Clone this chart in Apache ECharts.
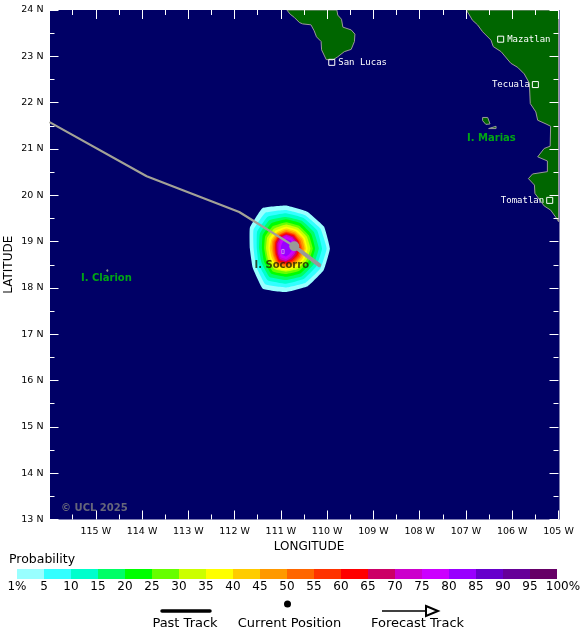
<!DOCTYPE html>
<html>
<head>
<meta charset="utf-8">
<style>html,body{margin:0;padding:0;background:#fff}#c{width:580px;height:639px}</style>
<script src="https://cdn.jsdelivr.net/npm/echarts@6/dist/echarts.min.js"></script>
</head>
<body>
<div id="c"></div>
<script>
const levelColors = ['#99ffff','#33ffff','#00ffcc','#00ff66','#00ff00','#66ff00','#ccff00','#ffff00','#ffcc00','#ff9900','#ff6600','#ff3300','#ff0000','#cc0066','#cc00cc','#cc00ff','#9900ff','#6600cc','#660099','#660066'];
const legendTicks = {0:'1%',100:'{r|100%}'};
const pastTrack = [[-116,21.58],[-113.9,20.41],[-111.9,19.64],[-110.71,18.9]];
const forecastTrack = [[-110.71,18.9],[-110.17,18.49]];
const currentPosition = [[-110.71,18.9]];
const probabilityCenter = [-110.89,18.85];
// radius (deg) of each probability contour: E, 30, 60, N, 120, 150, W, 210, 240, S, 300, 330
const contour1  = [.95,.95,.92,.93,1.01,.90,.78,.83,1.00,.94,.94,.94];
const contour5  = [.88,.86,.83,.83,.89,.81,.70,.75,.89,.84,.85,.86];
const contour10 = [.78,.78,.76,.76,.79,.72,.63,.68,.79,.76,.76,.76];
const contour15 = [.71,.70,.69,.68,.71,.65,.58,.61,.71,.68,.69,.69];
const contour20 = [.63,.63,.63,.63,.63,.58,.52,.55,.63,.61,.62,.62];
const contour25 = [.58,.57,.57,.57,.56,.52,.47,.49,.57,.55,.56,.56];
const contour30 = [.53,.52,.52,.52,.50,.47,.43,.45,.51,.50,.51,.51];
const contour35 = [.47,.47,.47,.47,.45,.42,.38,.40,.47,.47,.46,.46];
const contour40 = [.43,.43,.43,.43,.40,.37,.35,.36,.43,.43,.42,.42];
const contour45 = [.40,.40,.40,.40,.37,.34,.31,.32,.40,.40,.38,.38];
const contour50 = [.36,.36,.37,.37,.34,.31,.28,.30,.37,.37,.35,.35];
const contour55 = [.33,.33,.35,.35,.32,.28,.25,.27,.34,.34,.32,.32];
const contour60 = [.30,.31,.33,.33,.30,.26,.23,.25,.32,.32,.29,.29];
const contour65 = [.27,.29,.31,.31,.28,.24,.21,.23,.29,.29,.27,.26];
const contour70 = [.24,.26,.28,.29,.25,.21,.18,.20,.26,.27,.23,.22];
const contour75 = [.20,.22,.25,.26,.22,.17,.15,.17,.22,.23,.19,.19];
const contour80 = [.14,.17,.20,.20,.15,.12,.11,.12,.16,.17,.14,.13];
const contours = [contour1,contour5,contour10,contour15,contour20,contour25,contour30,contour35,contour40,contour45,contour50,contour55,contour60,contour65,contour70,contour75,contour80];

const bajaCoast = [[-110.87,24],[-110.80,23.91],[-110.71,23.84],[-110.60,23.73],[-110.53,23.70],[-110.35,23.68],[-110.28,23.55],[-110.23,23.42],[-110.13,23.32],[-110.12,23.14],[-110.02,22.93],[-109.88,22.92],[-109.77,22.99],[-109.63,23.10],[-109.48,23.15],[-109.41,23.32],[-109.40,23.48],[-109.48,23.57],[-109.66,23.63],[-109.69,23.80],[-109.77,23.89],[-109.79,24]];
const mainlandCoast = [[-106.99,24],[-106.86,23.78],[-106.75,23.68],[-106.64,23.53],[-106.46,23.35],[-106.41,23.21],[-106.24,23.10],[-106.09,22.92],[-106.03,22.85],[-105.88,22.76],[-105.74,22.62],[-105.63,22.42],[-105.61,21.98],[-105.49,21.80],[-105.45,21.62],[-105.27,21.54],[-105.17,21.49],[-105.18,21.06],[-105.31,21.01],[-105.45,20.83],[-105.24,20.74],[-105.24,20.51],[-105.56,20.46],[-105.65,20.36],[-105.52,20.22],[-105.51,20.04],[-105.31,19.77],[-105.17,19.68],[-105.04,19.50],[-105,19.43],[-105,24]];
const mariaMadre = [[-106.64,21.68],[-106.53,21.68],[-106.48,21.54],[-106.57,21.53],[-106.64,21.61]];
const mariaSmall = [[-106.51,21.44],[-106.35,21.49],[-106.35,21.44]];
const clarionIsle = [[-114.76,18.39],[-114.74,18.39],[-114.74,18.36],[-114.76,18.36]];
const socorroIsle = [[-110.98,18.83],[-110.93,18.83],[-110.93,18.74],[-110.98,18.74]];
const landShapes = [bajaCoast,mainlandCoast,mariaMadre,mariaSmall,clarionIsle,socorroIsle];

const cities = [
  {name:'Mazatlan',value:[-106.25,23.37],side:'right'},
  {name:'San Lucas',value:[-109.90,22.87],side:'right'},
  {name:'Tecuala',value:[-105.50,22.39],side:'left'},
  {name:'Tomatlan',value:[-105.19,19.89],side:'left'}
];
const islandLabels = [
  {name:'I. Clarion',value:[-114.77,18.21],color:'#00d000'},
  {name:'I. Marias',value:[-106.45,21.22],color:'#00d000'},
  {name:'I. Socorro',value:[-110.98,18.49],color:'#222200'}
];
const copyright = [{name:'© UCL 2025',value:[-115.03,13.24]}];

const FONT = '"DejaVu Sans"';
const mapAxis = {
  type:'value', min:-116, max:-105, interval:1, gridIndex:0, z:10, splitLine:{show:false},
  axisLine:{show:false},
  axisTick:{show:true,inside:true,length:9,lineStyle:{color:'#fff',width:1}},
  minorTick:{show:true,splitNumber:2,length:5,lineStyle:{color:'#fff',width:1}},
  minorSplitLine:{show:false}
};
const mapAxisY = Object.assign({},mapAxis,{min:13,max:24});
function ringPoints(api, radii){
  const n = radii.length;
  return radii.map((r,i)=>{
    const a = i*2*Math.PI/n;
    return api.coord([probabilityCenter[0]+r*Math.cos(a),probabilityCenter[1]+r*Math.sin(a)]);
  });
}
const option = {
  animation:false,
  textStyle:{fontFamily:FONT},
  grid:[
    {left:49.5,top:10,width:509,height:509.5,outerBoundsMode:'none',containLabel:false},
    {left:17,top:569,width:540,height:10,outerBoundsMode:'none',containLabel:false}
  ],
  xAxis:[
    Object.assign({},mapAxis,{position:'bottom',name:'LONGITUDE',nameLocation:'middle',nameGap:21.5,nameMoveOverlap:false,
      nameTextStyle:{fontSize:12,color:'#000',fontFamily:FONT,padding:[0,0,0,10]},
      axisLabel:{show:true,margin:7,fontSize:9.5,color:'#000',fontFamily:FONT,showMinLabel:false,formatter:v=>(-v)+' W'}}),
    Object.assign({},mapAxis,{position:'top',axisLabel:{show:false}}),
    {type:'value',gridIndex:1,min:0,max:100,interval:5,axisLine:{show:false},axisTick:{show:false},splitLine:{show:false},
      axisLabel:{margin:2,fontSize:12,color:'#000',fontFamily:FONT,showMinLabel:true,showMaxLabel:true,hideOverlap:false,
        rich:{r:{fontSize:12,color:'#000',fontFamily:FONT,padding:[0,0,0,12]}},
        formatter:v=>legendTicks[v]||String(v)}}
  ],
  yAxis:[
    Object.assign({},mapAxisY,{position:'left',name:'LATITUDE',nameLocation:'middle',nameGap:34.5,nameRotate:90,nameMoveOverlap:false,
      nameTextStyle:{fontSize:12,color:'#000',fontFamily:FONT},
      axisLabel:{show:true,margin:6,fontSize:9.5,color:'#000',fontFamily:FONT,formatter:v=>v+' N'}}),
    Object.assign({},mapAxisY,{position:'right',axisLabel:{show:false}}),
    {type:'value',gridIndex:1,min:0,max:1,show:false}
  ],
  graphic:[
    {type:'rect',z:0,silent:true,shape:{x:50,y:10,width:509.5,height:509.5},style:{fill:'#000066'}},
    {type:'text',left:9,top:553,style:{text:'Probability',font:'12.5px "DejaVu Sans"',fill:'#000'}},
    {type:'line',shape:{x1:162,y1:611,x2:210,y2:611},style:{stroke:'#000',lineWidth:3.5,lineCap:'round'}},
    {type:'circle',shape:{cx:287.5,cy:604,r:3.5},style:{fill:'#000'}},
    {type:'line',shape:{x1:382,y1:611,x2:426,y2:611},style:{stroke:'#000',lineWidth:1.5}},
    {type:'polygon',shape:{points:[[426,606],[438,611],[426,616]]},style:{fill:'#fff',stroke:'#000',lineWidth:2}},
    {type:'text',x:185,y:623.5,style:{text:'Past Track',font:'13px "DejaVu Sans"',fill:'#000',align:'center',verticalAlign:'middle'}},
    {type:'text',x:289.5,y:623.5,style:{text:'Current Position',font:'13px "DejaVu Sans"',fill:'#000',align:'center',verticalAlign:'middle'}},
    {type:'text',x:417.5,y:623.5,style:{text:'Forecast Track',font:'13px "DejaVu Sans"',fill:'#000',align:'center',verticalAlign:'middle'}}
  ],
  series:[
    {type:'custom',xAxisIndex:0,yAxisIndex:0,z:3,clip:true,silent:true,
      data:contours.map((c,i)=>[i]),
      renderItem:(p,api)=>{
        const i = api.value(0);
        return {type:'polygon',shape:{points:ringPoints(api,contours[i]),smooth:0.1},style:{fill:levelColors[i]}};
      }},
    {type:'custom',xAxisIndex:0,yAxisIndex:0,z:4,clip:true,silent:true,
      data:landShapes.map((c,i)=>[i]),
      renderItem:(p,api)=>{
        const i = api.value(0);
        const isSoc = landShapes[i]===socorroIsle;
        return {type:'polygon',shape:{points:landShapes[i].map(q=>api.coord(q))},
          style:{fill:isSoc?'rgba(0,0,0,0)':'#006600',stroke:isSoc?'#cc88ee':'#999',lineWidth:1}};
      }},
    {type:'line',xAxisIndex:0,yAxisIndex:0,z:6,data:pastTrack,showSymbol:false,silent:true,
      lineStyle:{color:'#a3a296',width:2.2}},
    {type:'line',xAxisIndex:0,yAxisIndex:0,z:6,data:forecastTrack,showSymbol:false,silent:true,
      lineStyle:{color:'#999',width:4,cap:'round'}},
    {type:'scatter',xAxisIndex:0,yAxisIndex:0,z:7,data:currentPosition,symbol:'circle',symbolSize:10,silent:true,
      itemStyle:{color:'#999',opacity:1}},
    {type:'scatter',xAxisIndex:0,yAxisIndex:0,z:8,silent:true,symbol:'rect',symbolSize:6,
      itemStyle:{color:'rgba(0,0,0,0)',borderColor:'#fff',borderWidth:1,opacity:1},
      data:cities.map(c=>({name:c.name,value:c.value,label:{show:true,position:c.side,distance:c.side==='right'?3:2,formatter:'{b}',
        fontFamily:'"DejaVu Sans Mono"',fontSize:9,color:'#fff'}}))},
    {type:'scatter',xAxisIndex:0,yAxisIndex:0,z:9,silent:true,symbolSize:0,
      data:islandLabels.map(c=>({name:c.name,value:c.value,label:{show:true,position:'inside',formatter:'{b}',
        fontFamily:FONT,fontWeight:'bold',fontSize:10,color:c.color}}))},
    {type:'scatter',xAxisIndex:0,yAxisIndex:0,z:9,silent:true,symbolSize:0,
      data:copyright.map(c=>({name:c.name,value:c.value,label:{show:true,position:'inside',formatter:'{b}',
        fontFamily:FONT,fontWeight:'bold',fontSize:10,color:'#808080'}}))},
    {type:'custom',xAxisIndex:2,yAxisIndex:2,z:3,silent:true,
      data:levelColors.map((c,i)=>[i]),
      renderItem:(p,api)=>{
        const i = api.value(0);
        const a = api.coord([i*5,1]), b = api.coord([(i+1)*5,0]);
        return {type:'rect',shape:{x:a[0],y:a[1],width:b[0]-a[0],height:b[1]-a[1]},style:{fill:levelColors[i]}};
      }}
  ]
};
echarts.init(document.getElementById('c'),null,{renderer:'canvas'}).setOption(option);
</script>
</body>
</html>
